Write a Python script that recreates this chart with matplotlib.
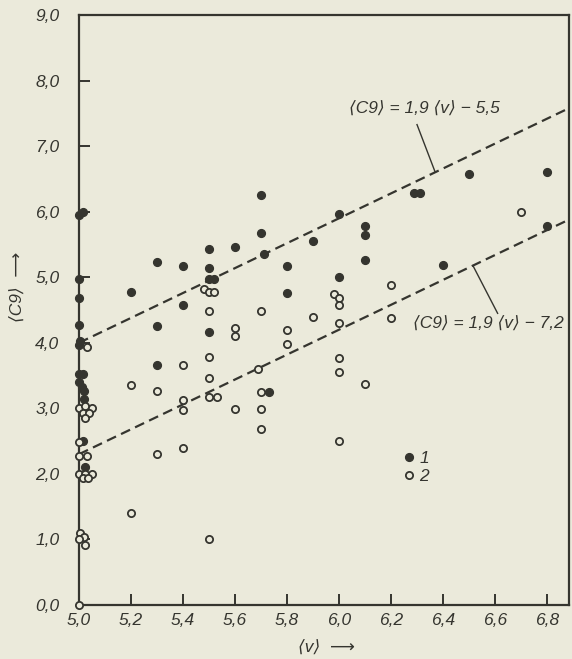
import matplotlib.pyplot as plt
import numpy as np

# series 1 (filled circles): <v>, <C9>
v1 = [5.0, 5.015, 5.0, 5.0, 5.0, 5.005, 5.0, 5.0, 5.015, 5.0, 5.01, 5.02, 5.02, 5.015, 5.025,
      5.2, 5.3, 5.3, 5.3, 5.4, 5.4, 5.5, 5.5, 5.5, 5.52, 5.5, 5.6, 5.7, 5.7, 5.71, 5.73,
      5.8, 5.8, 5.9, 6.0, 6.0, 6.1, 6.1, 6.1, 6.29, 6.31, 6.4, 6.5, 6.8, 6.8]
c1 = [5.95, 6.0, 4.97, 4.68, 4.27, 4.03, 3.96, 3.52, 3.52, 3.4, 3.32, 3.27, 3.15, 2.5, 2.1,
      4.77, 5.24, 4.26, 3.66, 5.17, 4.57, 5.43, 5.14, 4.98, 4.98, 4.17, 5.46, 6.26, 5.68, 5.35, 3.25,
      5.17, 4.76, 5.56, 5.97, 5.0, 5.79, 5.65, 5.27, 6.28, 6.28, 5.18, 6.57, 6.6, 5.78]

# series 2 (open circles)
v2 = [5.0, 5.005, 5.02, 5.0, 5.025, 5.0, 5.025, 5.05, 5.015, 5.035, 5.0, 5.03, 5.0,
      5.0, 5.025, 5.05, 5.015, 5.04, 5.025, 5.03,
      5.2, 5.2, 5.3, 5.3, 5.4, 5.4, 5.4, 5.4, 5.48, 5.5, 5.52, 5.5, 5.5, 5.5, 5.5, 5.53, 5.5,
      5.6, 5.6, 5.6, 5.7, 5.69, 5.7, 5.7, 5.7, 5.8, 5.8, 5.9, 5.98, 6.0, 6.0, 6.0, 6.0, 6.0,
      6.0, 6.1, 6.2, 6.2, 6.7]
c2 = [0.0, 1.1, 1.03, 1.0, 0.91, 2.0, 2.0, 2.0, 1.93, 1.93, 2.28, 2.28, 2.48,
      3.01, 3.04, 3.01, 2.93, 2.93, 2.86, 3.94,
      3.36, 1.4, 3.27, 2.3, 3.66, 3.12, 2.98, 2.39, 4.82, 4.77, 4.77, 4.48, 3.78, 3.47, 3.18, 3.18, 1.0,
      4.22, 4.1, 2.99, 4.48, 3.6, 3.25, 2.99, 2.68, 4.2, 3.98, 4.4, 4.75, 4.68, 4.58, 4.3, 3.77, 3.56,
      2.5, 3.37, 4.88, 4.38, 5.99]

# fitted lines <C9> = a*<v> + b
slopes = [1.9, 1.9]
intercepts = [-5.5, -7.2]
eq_labels = ['⟨C9⟩ = 1,9 ⟨v⟩ − 5,5', '⟨C9⟩ = 1,9 ⟨v⟩ − 7,2']

xticks = [5.0, 5.2, 5.4, 5.6, 5.8, 6.0, 6.2, 6.4, 6.6, 6.8]
xticklabels = ['5,0', '5,2', '5,4', '5,6', '5,8', '6,0', '6,2', '6,4', '6,6', '6,8']
yticks = [0, 1, 2, 3, 4, 5, 6, 7, 8, 9]
yticklabels = ['0,0', '1,0', '2,0', '3,0', '4,0', '5,0', '6,0', '7,0', '8,0', '9,0']

paper = '#ebeadb'
ink = '#35352f'
font = dict(family=['Liberation Sans', 'DejaVu Sans'], style='italic', color=ink)

fig = plt.figure(figsize=(5.72, 6.59), dpi=100, facecolor=paper)
ax = fig.add_axes([0.138, 0.082, 0.857, 0.895], facecolor=paper)

xmin, xmax = 5.0, 6.885
ax.set_xlim(xmin, xmax)
ax.set_ylim(0, 9)

xs = np.array([xmin, xmax])
for a, b in zip(slopes, intercepts):
    ax.plot(xs, a * xs + b, color=ink, lw=1.6, ls=(0, (4.5, 2.5)), zorder=2)

ax.plot(v1, c1, 'o', ms=5.6, color=ink, mec=ink, clip_on=False, zorder=3, label='1')
ax.plot(v2, c2, 'o', ms=5.2, mfc=paper, mec=ink, mew=1.3, clip_on=False, zorder=3, label='2')

# equation labels with leader lines
ax.text(6.33, 7.57, eq_labels[0], ha='center', va='center', fontsize=12.5, **font)
ax.plot([6.30, 6.37], [7.33, 1.9 * 6.37 - 5.5], color=ink, lw=1.0)
ax.text(6.575, 4.29, eq_labels[1], ha='center', va='center', fontsize=12.5, **font)
ax.plot([6.515, 6.61], [1.9 * 6.515 - 7.2, 4.45], color=ink, lw=1.0)

leg = ax.legend(loc='upper left', bbox_to_anchor=(0.624, 0.287), frameon=False,
                handletextpad=0.1, labelspacing=0.15, handlelength=1.0,
                prop=dict(family='Liberation Sans', style='italic', size=12.5))
for t in leg.get_texts():
    t.set_color(ink)

ax.set_xticks(xticks)
ax.set_xticklabels(xticklabels, **font, fontsize=12.5)
ax.set_yticks(yticks)
ax.set_yticklabels(yticklabels, **font, fontsize=12.5)
ax.tick_params(axis='both', direction='in', length=8, width=1.4, color=ink)
ax.tick_params(axis='x', pad=6)
ax.tick_params(axis='y', pad=14)

for s in ax.spines.values():
    s.set_color(ink)
    s.set_linewidth(1.6)

fig.text(0.57, 0.017, '⟨v⟩  ⟶', ha='center', va='center', fontsize=12.5, **font)
fig.text(0.032, 0.565, '⟨C9⟩  ⟶', ha='center', va='center', rotation=90, fontsize=12.5, **font)

fig.savefig('out.png', dpi=100, facecolor=paper)
